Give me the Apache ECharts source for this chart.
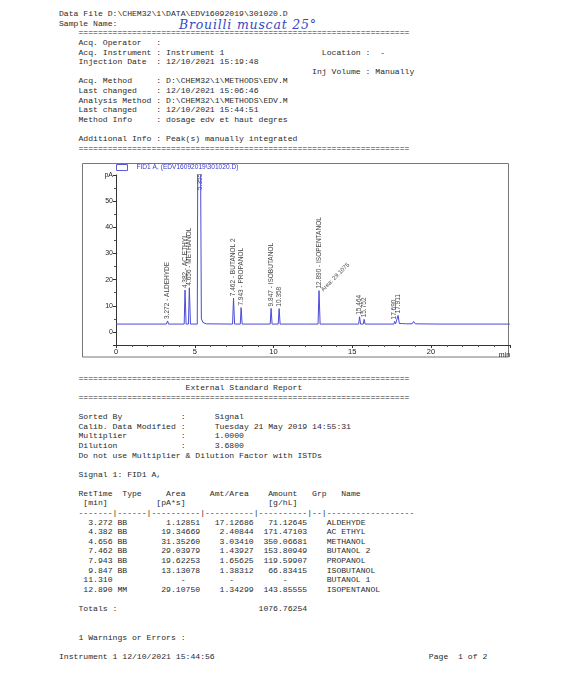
<!DOCTYPE html>
<html><head><meta charset="utf-8">
<script src="https://cdn.jsdelivr.net/npm/echarts@6/dist/echarts.min.js"></script>
<style>
html,body{margin:0;padding:0;background:#fff;width:570px;height:680px;overflow:hidden;}
#report{position:absolute;left:59px;top:9.2px;margin:0;font-family:'Liberation Mono',monospace;font-size:8.12px;line-height:9.6px;color:#2b2b2b;white-space:pre;}
#sample{position:absolute;left:179px;top:17px;font-family:'DejaVu Serif',serif;font-style:italic;font-size:12.5px;color:#3448c4;letter-spacing:0.8px;}
#chart{position:absolute;left:0;top:0;width:570px;height:680px;}
</style></head>
<body>
<pre id="report"></pre>
<div id="sample">Brouilli muscat 25°</div>
<div id="chart"></div>
<script>
// ---- chromatogram signal (time in min, signal in pA) ----
const chromTime = [0.00, 3.20, 3.272, 3.34, 4.33, 4.382, 4.45, 4.60, 4.656, 4.73, 5.16, 5.19, 5.37, 5.42, 5.52, 5.75,
  7.40, 7.462, 7.53, 7.89, 7.943, 8.01, 9.79, 9.847, 9.91, 10.30, 10.358, 10.42, 12.05, 12.10, 12.16,
  12.83, 12.890, 12.96, 14.35, 14.40, 14.46, 15.41, 15.464, 15.53, 15.70, 15.752, 15.82,
  17.64, 17.690, 17.75, 17.85, 17.911, 17.99, 18.20, 18.28, 18.38, 18.80, 18.90, 19.00, 20.50, 25.00];
const chromPA = [3.0, 3.0, 4.2, 3.0, 3.0, 16.0, 3.0, 3.0, 16.9, 3.0, 3.0, 64, 64, 5.0, 3.6, 3.1,
  3.0, 12.9, 3.0, 3.0, 9.3, 3.0, 3.0, 9.0, 3.0, 3.0, 8.9, 3.0, 3.0, 3.6, 3.0,
  3.0, 15.8, 3.0, 3.0, 3.3, 3.0, 3.0, 5.8, 3.0, 3.0, 4.8, 3.0,
  3.0, 4.0, 3.1, 3.1, 6.3, 3.2, 3.2, 3.6, 3.1, 3.1, 4.0, 3.1, 3.0, 3.0];

// ---- peak annotations ----
const peakTimes = [3.272, 4.382, 4.656, 5.355, 7.462, 7.943, 9.847, 10.358, 12.890, 15.464, 15.752, 17.690, 17.911];
const peakNames = ['ALDEHYDE', 'AC ETHYL', 'METHANOL', '', 'BUTANOL 2', 'PROPANOL', 'ISOBUTANOL', '', 'ISOPENTANOL', '', '', '', ''];
const peakLabelPA = [4.2, 16.0, 16.9, 53.5, 12.9, 9.3, 9.0, 8.9, 15.8, 5.8, 4.8, 4.0, 6.3];
const areaNote = {time: 12.890, pA: 15.8, text: 'Area: 29.1075'};

// ---- axis tick labels ----
const xTickLabels = [0, 5, 10, 15, 20];
const yTickLabels = [0, 10, 20, 30, 40, 50];

// ---- report table ----
const retTimes = ['3.272', '4.382', '4.656', '7.462', '7.943', '9.847', '11.310', '12.890'];
const types = ['BB', 'BB', 'BB', 'BB', 'BB', 'BB', '', 'MM'];
const areas = ['1.12851', '19.34669', '31.35260', '29.03979', '19.62253', '13.13078', null, '29.10750'];
const amtPerArea = ['17.12686', '2.40844', '3.03410', '1.43927', '1.65625', '1.38312', null, '1.34299'];
const amounts = ['71.12645', '171.47103', '350.06681', '153.80949', '119.59907', '66.83415', null, '143.85555'];
const compoundNames = ['ALDEHYDE', 'AC ETHYL', 'METHANOL', 'BUTANOL 2', 'PROPANOL', 'ISOBUTANOL', 'BUTANOL 1', 'ISOPENTANOL'];
const totalAmount = '1076.76254';

// ---- build report text ----
const EQ = '='.repeat(68);
const I = '    ';
const lines = [
  'Data File D:\\CHEM32\\1\\DATA\\EDV16092019\\301020.D',
  'Sample Name:',
  I + EQ,
  I + 'Acq. Operator   :',
  I + 'Acq. Instrument : Instrument 1' + ' '.repeat(20) + 'Location :  -',
  I + 'Injection Date  : 12/10/2021 15:19:48',
  I + ' '.repeat(48) + 'Inj Volume : Manually',
  I + 'Acq. Method     : D:\\CHEM32\\1\\METHODS\\EDV.M',
  I + 'Last changed    : 12/10/2021 15:06:46',
  I + 'Analysis Method : D:\\CHEM32\\1\\METHODS\\EDV.M',
  I + 'Last changed    : 12/10/2021 15:44:51',
  I + 'Method Info     : dosage edv et haut degres',
  '',
  I + 'Additional Info : Peak(s) manually integrated',
  I + EQ
];
while (lines.length < 38) lines.push('');
lines.push(I + EQ);
lines.push(I + ' '.repeat(22) + 'External Standard Report');
lines.push(I + EQ);
lines.push('');
lines.push(I + 'Sorted By'.padEnd(21) + ':      Signal');
lines.push(I + 'Calib. Data Modified'.padEnd(21) + ':      Tuesday 21 May 2019 14:55:31');
lines.push(I + 'Multiplier'.padEnd(21) + ':      1.0000');
lines.push(I + 'Dilution'.padEnd(21) + ':      3.6800');
lines.push(I + 'Do not use Multiplier & Dilution Factor with ISTDs');
lines.push('');
lines.push(I + 'Signal 1: FID1 A,');
lines.push('');
lines.push(I + 'RetTime'.padEnd(9) + 'Type'.padEnd(9) + 'Area'.padEnd(9) + 'Amt/Area'.padEnd(12) + 'Amount'.padEnd(9) + 'Grp'.padEnd(6) + 'Name');
lines.push(I + ' [min]'.padEnd(16) + '[pA*s]'.padEnd(23) + '[g/hL]');
lines.push(I + '-------|------|----------|----------|----------|--|------------------');
for (let i = 0; i < retTimes.length; i++) {
  const a = areas[i] === null ? '      -   ' : areas[i].padStart(10);
  const b = amtPerArea[i] === null ? '     -    ' : amtPerArea[i].padStart(10);
  const c = amounts[i] === null ? '     -    ' : amounts[i].padStart(10);
  lines.push(I + retTimes[i].padStart(7) + ' ' + types[i].padEnd(6) + ' ' + a + ' ' + b + ' ' + c + ' ' + '  ' + ' ' + compoundNames[i]);
}
lines.push('');
lines.push(I + 'Totals :'.padEnd(37) + totalAmount);
lines.push('');
lines.push('');
lines.push(I + '1 Warnings or Errors :');
lines.push('');
lines.push('Instrument 1 12/10/2021 15:44:56'.padEnd(76) + 'Page  1 of 2');
document.getElementById('report').textContent = lines.join('\n');

// ---- chart ----
const SERIES_NAME = 'FID1 A, (EDV16092019\\301020.D)';
const chart = echarts.init(document.getElementById('chart'), null, {renderer: 'canvas'});
const lblFont = 'Liberation Sans';
chart.setOption({
  animation: false,
  grid: {left: 116, right: 60.25, top: 175, bottom: 335, containLabel: false},
  legend: {
    data: [{name: SERIES_NAME, icon: 'rect', itemStyle: {color: '#ffffff', borderColor: '#5b5bd6', borderWidth: 1}}],
    left: 116, top: 162, itemWidth: 11, itemHeight: 6, selectedMode: false, padding: [2, 2, 2, 0],
    textStyle: {color: '#3a3ac8', fontSize: 6.6, fontFamily: lblFont, padding: [0, 0, 0, 4]}
  },
  xAxis: {
    type: 'value', min: 0, max: 25, interval: 5,
    axisLine: {onZero: false, lineStyle: {color: '#333', width: 1}},
    axisTick: {length: 3, lineStyle: {color: '#333'}},
    minorTick: {show: true, splitNumber: 5, length: 2, lineStyle: {color: '#555'}},
    splitLine: {show: false},
    axisLabel: {fontSize: 7.5, color: '#222', fontFamily: lblFont, margin: 3,
      formatter: v => xTickLabels.indexOf(v) >= 0 ? String(v) : ''},
    name: 'min', nameLocation: 'end', nameGap: -11,
    nameTextStyle: {fontSize: 7, color: '#222', fontFamily: lblFont, verticalAlign: 'top', padding: [7, 0, 0, 0]}
  },
  yAxis: {
    type: 'value', min: -5, max: 60, splitNumber: 6,
    axisLine: {show: true, lineStyle: {color: '#333', width: 1}},
    axisTick: {show: true, length: 3, lineStyle: {color: '#333'}},
    minorTick: {show: true, splitNumber: 2, length: 2, lineStyle: {color: '#555'}},
    splitLine: {show: false},
    axisLabel: {fontSize: 7, color: '#222', fontFamily: lblFont, margin: 3,
      formatter: v => v === 60 ? 'pA' : (yTickLabels.indexOf(v) >= 0 ? String(v) : '')}
  },
  graphic: [{
    type: 'rect', silent: true, z: -1,
    shape: {x: 82.5, y: 163.5, width: 426, height: 193.5},
    style: {fill: 'none', stroke: '#777', lineWidth: 1}
  }],
  series: [
    {
      name: SERIES_NAME, type: 'line', clip: true, showSymbol: false, symbol: 'none',
      data: chromTime.map((t, i) => [t, chromPA[i]]),
      lineStyle: {color: '#4b4bd6', width: 1}, itemStyle: {color: '#4b4bd6'}, z: 3
    },
    {
      name: 'peaks', type: 'scatter', symbolSize: 0, clip: false, silent: true,
      data: peakTimes.map((t, i) => [t, peakLabelPA[i]]),
      label: {
        show: true, position: 'top', distance: 2, rotate: 90, align: 'left', verticalAlign: 'middle',
        fontSize: 6.5, fontFamily: lblFont, color: '#111',
        formatter: p => {
          const i = p.dataIndex;
          const t = peakTimes[i].toFixed(3);
          return peakNames[i] ? t + ' - ' + peakNames[i] : t;
        }
      }
    },
    {
      name: 'area', type: 'scatter', symbolSize: 0, clip: false, silent: true,
      data: [[areaNote.time, areaNote.pA]],
      label: {
        show: true, position: 'right', distance: 3, rotate: 45, align: 'left', verticalAlign: 'middle',
        fontSize: 6, fontFamily: lblFont, color: '#111', formatter: areaNote.text
      }
    }
  ]
});
</script>
</body></html>
